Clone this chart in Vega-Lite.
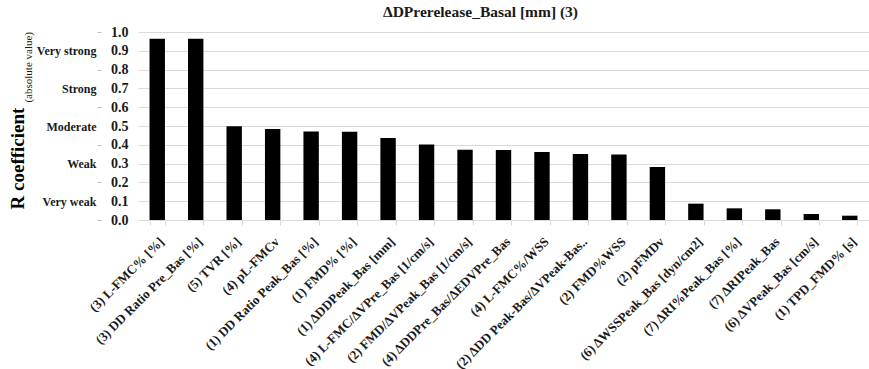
{
  "$schema": "https://vega.github.io/schema/vega-lite/v6.json",
  "autosize": {"type": "none"},
  "padding": {"left": 138, "top": 32, "right": 0, "bottom": 149},
  "width": 731,
  "height": 188,
  "background": "white",
  "title": {
    "text": "(absolute value)",
    "orient": "left",
    "anchor": "end",
    "frame": "group",
    "font": "Liberation Serif",
    "fontSize": 11,
    "fontWeight": "normal",
    "color": "#1a1a1a",
    "offset": -26
  },
  "data": {
    "values": [
      {"label": "(3) L-FMC% [%]", "r": 0.964},
      {"label": "(3) DD Ratio Pre_Bas [%]", "r": 0.964},
      {"label": "(5) TVR [%]", "r": 0.499},
      {"label": "(4) pL-FMCv", "r": 0.484},
      {"label": "(1) DD Ratio Peak_Bas [%]", "r": 0.471},
      {"label": "(1) FMD% [%]", "r": 0.470},
      {"label": "(1) ΔDDPeak_Bas [mm]", "r": 0.436},
      {"label": "(4) L-FMC/ΔVPre_Bas [1/cm/s]", "r": 0.401},
      {"label": "(2) FMD/ΔVPeak_Bas [1/cm/s]", "r": 0.374},
      {"label": "(4) ΔDDPre_Bas/ΔEDVPre_Bas", "r": 0.372},
      {"label": "(4) L-FMC%/WSS", "r": 0.362},
      {"label": "(2) ΔDD Peak-Bas/ΔVPeak-Bas..", "r": 0.351},
      {"label": "(2) FMD%WSS", "r": 0.349},
      {"label": "(2) pFMDv", "r": 0.282},
      {"label": "(6) ΔWSSPeak_Bas [dyn/cm2]", "r": 0.087},
      {"label": "(7) ΔRI%Peak_Bas [%]", "r": 0.062},
      {"label": "(7) ΔRIPeak_Bas", "r": 0.057},
      {"label": "(6) ΔVPeak_Bas [cm/s]", "r": 0.032},
      {"label": "(1) TPD_FMD% [s]", "r": 0.023}
    ]
  },
  "layer": [
    {
      "mark": {"type": "bar", "color": "#000000"},
      "encoding": {
        "x": {
          "field": "label",
          "type": "nominal",
          "sort": null,
          "scale": {"paddingInner": 0.6, "paddingOuter": 0.3},
          "axis": {
            "title": null,
            "labelAngle": -45,
            "labelAlign": "right",
            "labelBaseline": "top",
            "labelFont": "Liberation Serif",
            "labelFontSize": 13,
            "labelFontWeight": "bold",
            "labelColor": "#1a1a1a",
            "labelPadding": 10,
            "labelLimit": 300,
            "tickBand": "extent",
            "tickSize": 5,
            "tickColor": "#d9d9d9",
            "domainColor": "#d9d9d9",
            "grid": false
          }
        },
        "y": {
          "field": "r",
          "type": "quantitative",
          "scale": {"domain": [0, 1], "nice": false},
          "axis": {
            "title": null,
            "values": [0, 0.1, 0.2, 0.3, 0.4, 0.5, 0.6, 0.7, 0.8, 0.9, 1.0],
            "format": ".1f",
            "labelFont": "Liberation Serif",
            "labelFontSize": 14,
            "labelFontWeight": "bold",
            "labelColor": "#1a1a1a",
            "labelPadding": 10,
            "ticks": false,
            "domain": false,
            "grid": true,
            "gridColor": "#d9d9d9"
          }
        }
      }
    },
    {
      "mark": {"type": "bar", "opacity": 0},
      "encoding": {
        "x": {
          "field": "label",
          "type": "nominal",
          "sort": null,
          "scale": {"paddingInner": 0.6, "paddingOuter": 0.3},
          "axis": {
            "orient": "top",
            "labels": false,
            "ticks": false,
            "domain": false,
            "grid": false,
            "title": "ΔDPrerelease_Basal [mm] (3)",
            "titleFont": "Liberation Serif",
            "titleFontSize": 15.5,
            "titleFontWeight": "bold",
            "titleColor": "#1a1a1a",
            "titleAngle": 0,
            "titleAlign": "center",
            "titleBaseline": "bottom",
            "titleX": 342,
            "titleY": -13
          }
        },
        "y": {
          "field": "r",
          "type": "quantitative",
          "scale": {"domain": [0, 1], "nice": false},
          "axis": {
            "orient": "left",
            "offset": 37,
            "values": [0, 0.1, 0.2, 0.3, 0.4, 0.5, 0.6, 0.7, 0.8, 0.9, 1.0],
            "labelExpr": "round(datum.value*10) == 1 ? 'Very weak' : round(datum.value*10) == 3 ? 'Weak' : round(datum.value*10) == 5 ? 'Moderate' : round(datum.value*10) == 7 ? 'Strong' : round(datum.value*10) == 9 ? 'Very strong' : ''",
            "labelFont": "Liberation Serif",
            "labelFontSize": 12,
            "labelFontWeight": "bold",
            "labelColor": "#1a1a1a",
            "labelPadding": 1,
            "tickSize": 4,
            "tickColor": "#bfbfbf",
            "tickOpacity": {"condition": {"test": "round(datum.value*10) % 2 == 0", "value": 1}, "value": 0},
            "domain": false,
            "grid": false,
            "title": "R coefficient",
            "titleFont": "Liberation Serif",
            "titleFontSize": 19,
            "titleFontWeight": "bold",
            "titleColor": "#000000",
            "titleAngle": -90,
            "titleAlign": "center",
            "titleBaseline": "middle",
            "titleX": -84,
            "titleY": 126
          }
        }
      }
    }
  ],
  "resolve": {
    "scale": {"x": "independent", "y": "independent"},
    "axis": {"x": "independent", "y": "independent"}
  },
  "config": {"view": {"stroke": null}}
}
